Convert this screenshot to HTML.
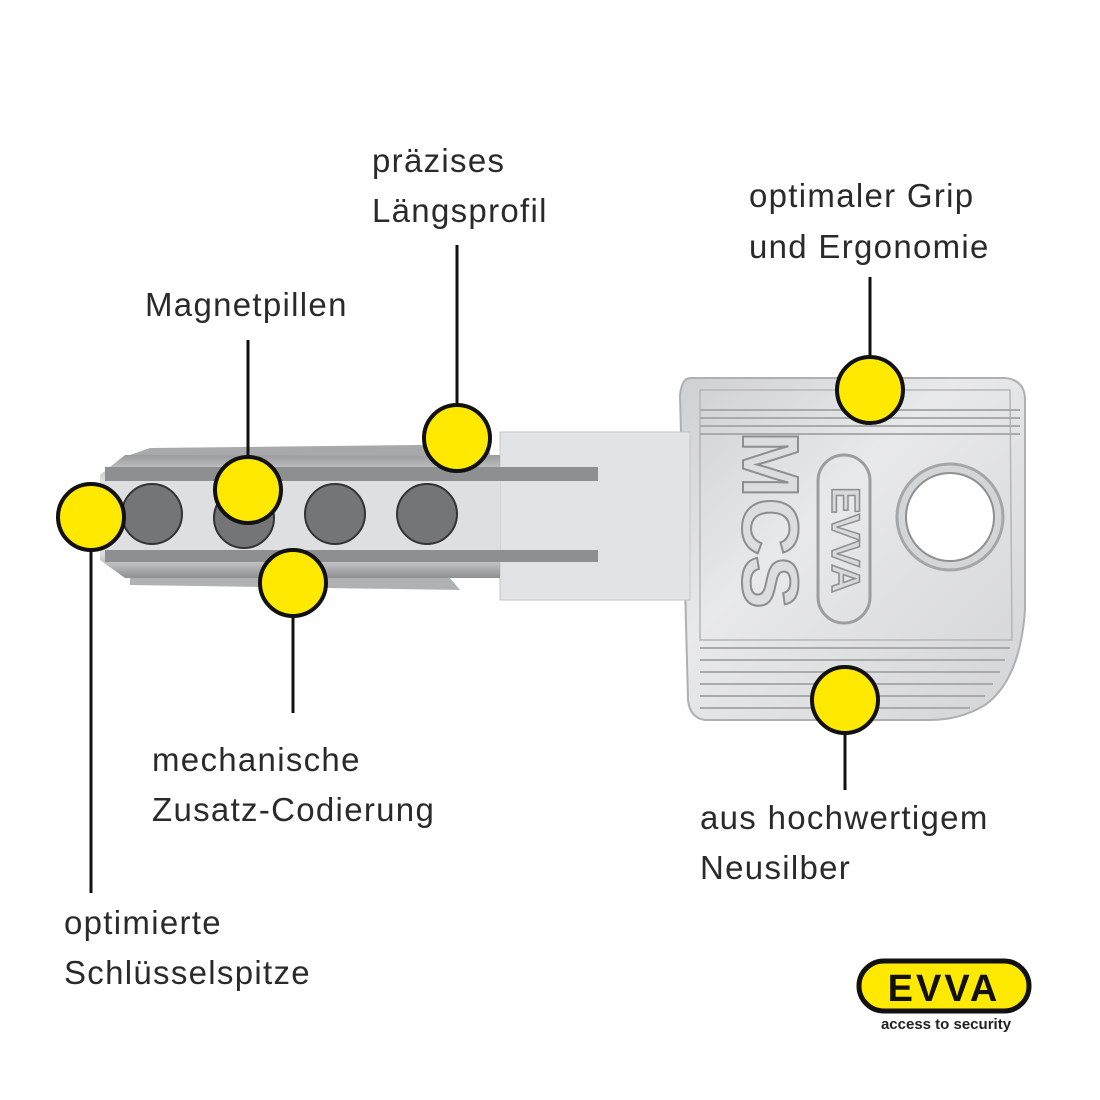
<!DOCTYPE html>
<html><head><meta charset="utf-8"><style>
html,body{margin:0;padding:0;background:#fff}
svg{display:block}
text{font-family:"Liberation Sans",sans-serif}
.l{font-size:33px;fill:#2a2a2a;font-weight:normal;letter-spacing:1.3px}
</style></head><body>
<svg width="1100" height="1100" viewBox="0 0 1100 1100" xmlns="http://www.w3.org/2000/svg">
<defs>
<linearGradient id="m" x1="0" y1="0" x2="1" y2="1">
<stop offset="0" stop-color="#cfd0d2"/><stop offset="0.4" stop-color="#e8e9ea"/><stop offset="1" stop-color="#d3d4d6"/></linearGradient>
<linearGradient id="b" x1="0" y1="0" x2="0" y2="1">
<stop offset="0" stop-color="#9a9b9d"/><stop offset="0.2" stop-color="#dedfe0"/><stop offset="0.8" stop-color="#dedfe0"/><stop offset="1" stop-color="#8e8f91"/></linearGradient>
</defs>
<!-- head -->
<path d="M690 378 L1005 378 Q1025 380 1025 400 L1025 610 Q1020 680 985 705 Q960 720 930 720 L705 720 Q690 718 688 700 L680 395 Q682 378 690 378Z" fill="url(#m)" stroke="#aeb0b2" stroke-width="2"/>
<path d="M700 390 L1010 390 L1012 640 L700 640Z" fill="none" stroke="#b5b6b8" stroke-width="1.5"/>
<g stroke="#a9aaac" stroke-width="2">
<line x1="700" y1="410" x2="1020" y2="410"/><line x1="700" y1="418" x2="1020" y2="418"/><line x1="700" y1="426" x2="1020" y2="426"/><line x1="700" y1="434" x2="1020" y2="434"/>
<line x1="700" y1="648" x2="1010" y2="648"/><line x1="700" y1="660" x2="1005" y2="660"/><line x1="700" y1="672" x2="1000" y2="672"/><line x1="700" y1="684" x2="993" y2="684"/><line x1="700" y1="696" x2="985" y2="696"/><line x1="700" y1="708" x2="970" y2="708"/>
</g>
<circle cx="950" cy="517" r="53" fill="#d4d5d7" stroke="#a5a6a8" stroke-width="3"/>
<circle cx="950" cy="517" r="44" fill="#fff" stroke="#8f9092" stroke-width="2"/>
<rect x="818" y="455" width="52" height="168" rx="26" fill="none" stroke="#9c9d9f" stroke-width="3"/>
<text transform="translate(832,540) rotate(90)" text-anchor="middle" font-size="40" font-weight="bold" fill="#d8d9da" stroke="#8d8e90" stroke-width="1.5">EVVA</text>
<text transform="translate(743,520) rotate(90)" text-anchor="middle" font-size="80" font-weight="bold" fill="#dcdddf" stroke="#8d8e90" stroke-width="2">MCS</text>
<!-- neck -->
<rect x="500" y="432" width="190" height="168" fill="#e2e3e4" stroke="#c4c5c7"/>
<!-- blade -->
<path d="M125 455 L500 455 L500 578 L125 578 L100 560 L100 475Z" fill="url(#b)"/>
<path d="M130 455 L150 448 L420 445 L490 452 L490 456Z" fill="#a8a9ab"/>
<path d="M130 578 L450 578 L460 590 L130 585Z" fill="#b0b1b3"/>
<rect x="105" y="467" width="493" height="14" fill="#8e8f91"/>
<rect x="105" y="550" width="493" height="12" fill="#8e8f91"/>
<g fill="#747577" stroke="#333" stroke-width="2">
<circle cx="152" cy="514" r="30"/><circle cx="244" cy="518" r="30"/><circle cx="335" cy="514" r="30"/><circle cx="427" cy="514" r="30"/></g>
<!-- lines -->
<g stroke="#111" stroke-width="3">
<line x1="248" y1="340" x2="248" y2="460"/><line x1="457" y1="245" x2="457" y2="405"/>
<line x1="91" y1="550" x2="91" y2="893"/><line x1="293" y1="616" x2="293" y2="713"/>
<line x1="870" y1="277" x2="870" y2="357"/><line x1="845" y1="733" x2="845" y2="790"/></g>
<g fill="#ffe900" stroke="#111" stroke-width="4">
<circle cx="457" cy="438" r="33"/><circle cx="248" cy="490" r="33"/><circle cx="91" cy="517" r="33"/>
<circle cx="293" cy="583" r="33"/><circle cx="870" cy="390" r="33"/><circle cx="845" cy="700" r="33"/></g>
<!-- labels -->
<text class="l" x="372" y="172">präzises</text><text class="l" x="372" y="222">Längsprofil</text>
<text class="l" x="145" y="316">Magnetpillen</text>
<text class="l" x="749" y="207">optimaler Grip</text><text class="l" x="749" y="258">und Ergonomie</text>
<text class="l" x="152" y="771">mechanische</text><text class="l" x="152" y="821">Zusatz-Codierung</text>
<text class="l" x="700" y="829">aus hochwertigem</text><text class="l" x="700" y="879">Neusilber</text>
<text class="l" x="64" y="934">optimierte</text><text class="l" x="64" y="984">Schlüsselspitze</text>
<!-- logo -->
<rect x="859" y="961" width="170" height="50" rx="25" fill="#ffe900" stroke="#111" stroke-width="5"/>
<text x="944" y="1001" text-anchor="middle" font-size="38" font-weight="bold" fill="#111" letter-spacing="3">EVVA</text>
<text x="946" y="1029" text-anchor="middle" font-size="15" font-weight="bold" fill="#222">access to security</text>
</svg>
</body></html>
